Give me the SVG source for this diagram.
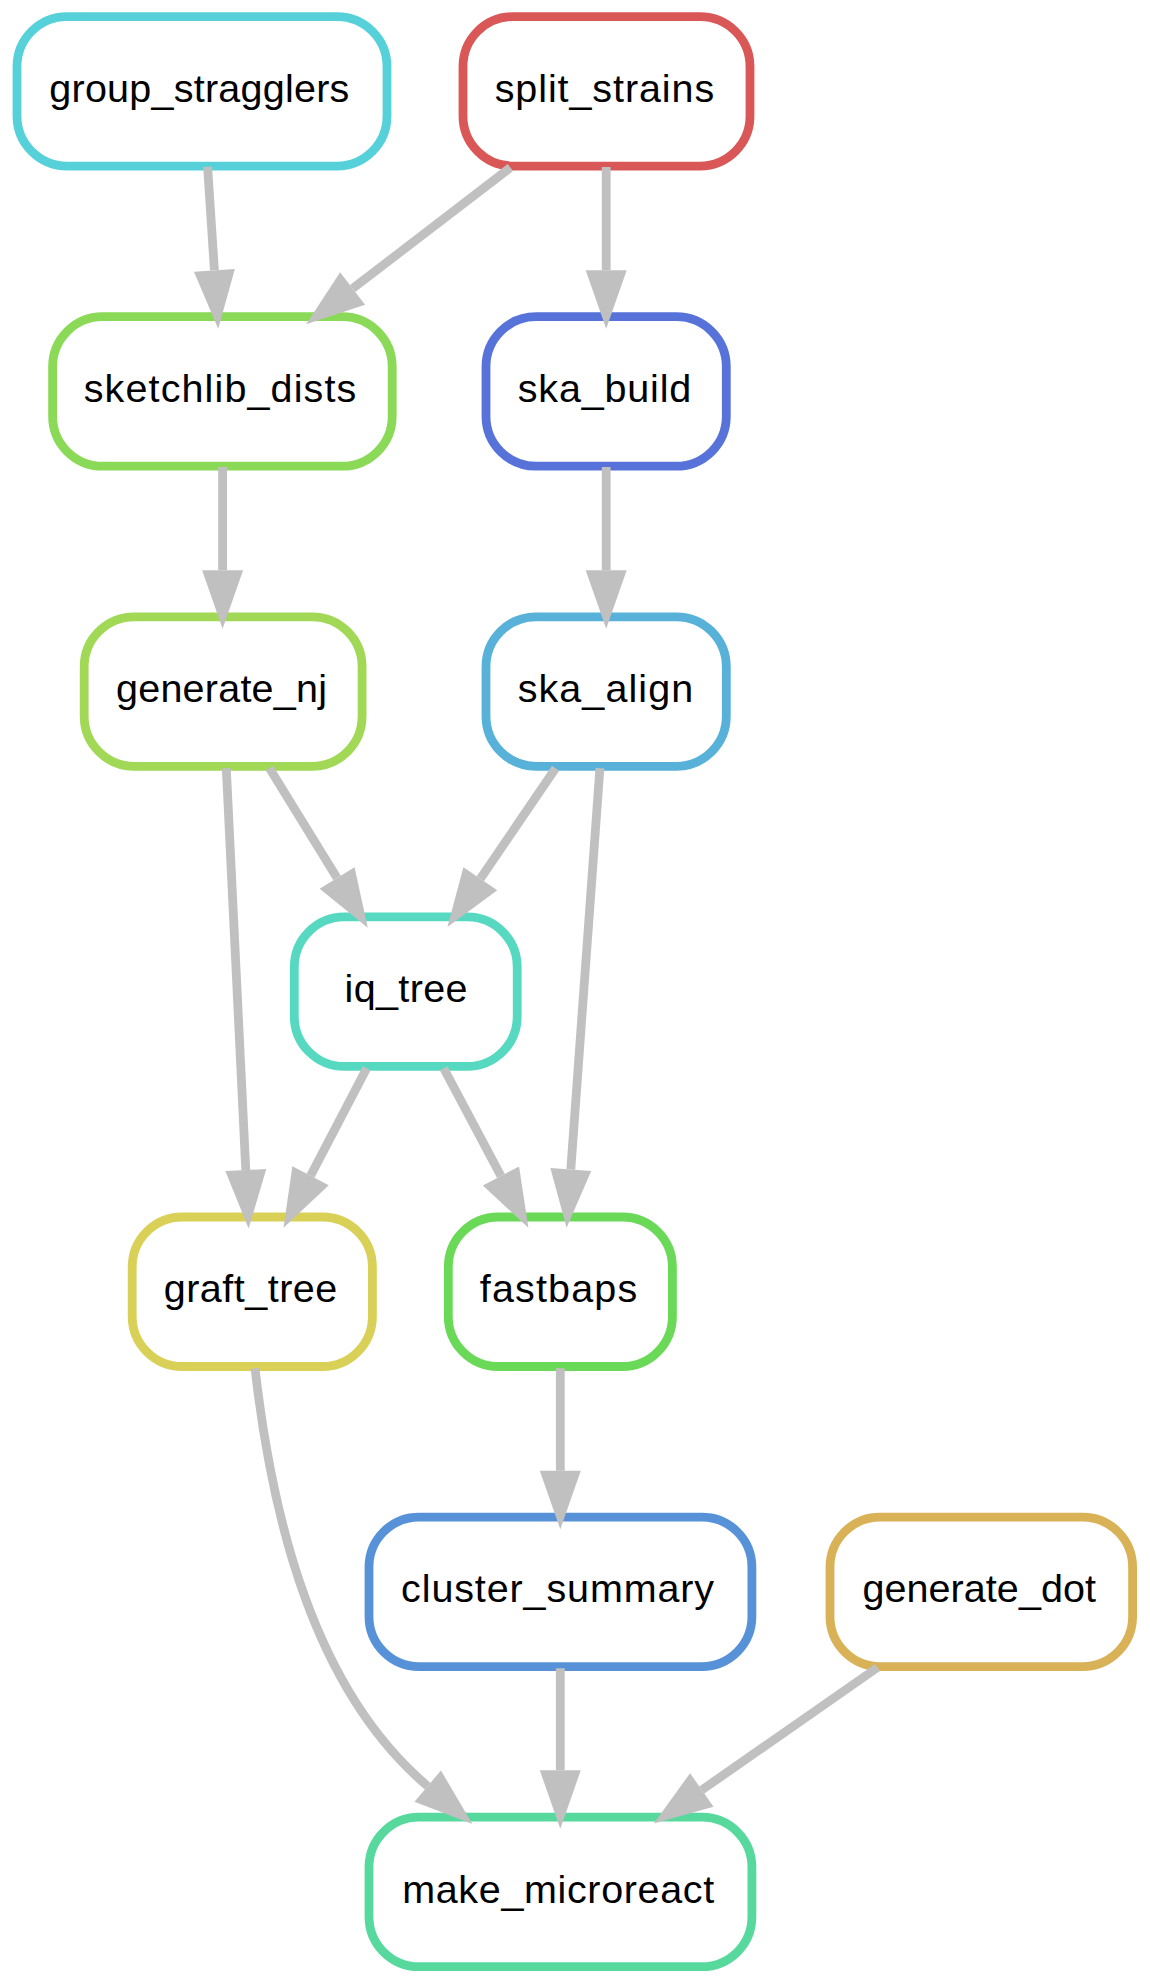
<svg xmlns="http://www.w3.org/2000/svg" width="1150" height="1984" viewBox="0 0 1150 1984">
<style>
  .node rect { fill: #ffffff; stroke-width: 8.8; }
  .node text { font-family: "Liberation Sans", Arial, Helvetica, sans-serif; font-size: 39.5px; fill: #000000; text-anchor: middle; }
  .edge { fill: none; stroke: #c0c0c0; stroke-width: 8.8; stroke-linecap: butt; marker-end: url(#arr); }
</style>
<defs>
  <marker id="arr" markerUnits="userSpaceOnUse" markerWidth="60" markerHeight="42" refX="0" refY="0" orient="auto" overflow="visible">
    <path d="M0,-20.5 L58.5,0 L0,20.5 Z" fill="#c0c0c0"/>
  </marker>
</defs>
<rect x="0" y="0" width="1150" height="1984" fill="#ffffff"/>
<g id="nodes">
  <g id="node-group_stragglers" class="node">
    <rect x="17" y="16.6" width="370" height="149.5" rx="50" ry="50" stroke="#57D1D9"/>
    <text x="199.3" y="101.9" textLength="300" lengthAdjust="spacing">group_stragglers</text>
  </g>
  <g id="node-split_strains" class="node">
    <rect x="463" y="16.6" width="287" height="149.5" rx="50" ry="50" stroke="#D95757"/>
    <text x="604.4" y="101.9" textLength="219.5" lengthAdjust="spacing">split_strains</text>
  </g>
  <g id="node-sketchlib_dists" class="node">
    <rect x="52.6" y="316.7" width="339.6" height="149.5" rx="50" ry="50" stroke="#8AD957"/>
    <text x="220" y="402" textLength="272.5" lengthAdjust="spacing">sketchlib_dists</text>
  </g>
  <g id="node-ska_build" class="node">
    <rect x="486" y="316.7" width="240.3" height="149.5" rx="50" ry="50" stroke="#5773D9"/>
    <text x="604.5" y="402" textLength="173.5" lengthAdjust="spacing">ska_build</text>
  </g>
  <g id="node-generate_nj" class="node">
    <rect x="84.2" y="616.8" width="277.9" height="149.5" rx="50" ry="50" stroke="#A1D957"/>
    <text x="221.5" y="702.1" textLength="211" lengthAdjust="spacing">generate_nj</text>
  </g>
  <g id="node-ska_align" class="node">
    <rect x="486" y="616.8" width="240.3" height="149.5" rx="50" ry="50" stroke="#57B1D9"/>
    <text x="605.4" y="702.1" textLength="175.5" lengthAdjust="spacing">ska_align</text>
  </g>
  <g id="node-iq_tree" class="node">
    <rect x="294.3" y="916.9" width="222.9" height="149.5" rx="50" ry="50" stroke="#57D9C1"/>
    <text x="406" y="1002.2" textLength="123" lengthAdjust="spacing">iq_tree</text>
  </g>
  <g id="node-graft_tree" class="node">
    <rect x="132.2" y="1217" width="240.2" height="149.5" rx="50" ry="50" stroke="#D9D157"/>
    <text x="250.5" y="1302.3" textLength="173.5" lengthAdjust="spacing">graft_tree</text>
  </g>
  <g id="node-fastbaps" class="node">
    <rect x="448.3" y="1217" width="224.1" height="149.5" rx="50" ry="50" stroke="#6AD957"/>
    <text x="558.5" y="1302.3" textLength="157.5" lengthAdjust="spacing">fastbaps</text>
  </g>
  <g id="node-cluster_summary" class="node">
    <rect x="369" y="1517.1" width="382.9" height="149.5" rx="50" ry="50" stroke="#5792D9"/>
    <text x="557.6" y="1602.4" textLength="313" lengthAdjust="spacing">cluster_summary</text>
  </g>
  <g id="node-generate_dot" class="node">
    <rect x="830" y="1517.1" width="302.6" height="149.5" rx="50" ry="50" stroke="#D9B257"/>
    <text x="979.2" y="1602.4" textLength="233.5" lengthAdjust="spacing">generate_dot</text>
  </g>
  <g id="node-make_microreact" class="node">
    <rect x="369" y="1817.2" width="382.9" height="149.5" rx="50" ry="50" stroke="#57D99E"/>
    <text x="558.2" y="1902.5" textLength="312" lengthAdjust="spacing">make_microreact</text>
  </g>
</g>
<g id="edges">
  <path class="edge" d="M207.6,166.8 L214.4,270.3"/>
  <path class="edge" d="M510.4,167.6 L352.6,288.6"/>
  <path class="edge" d="M606.2,167 L606.2,270.2"/>
  <path class="edge" d="M222.6,467 L222.6,570.3"/>
  <path class="edge" d="M606.2,467 L606.2,570.3"/>
  <path class="edge" d="M269.5,768.3 L337.1,878"/>
  <path class="edge" d="M555.6,768.3 L480.35,878.7"/>
  <path class="edge" d="M226.3,768.3 L245.8,1170.1"/>
  <path class="edge" d="M366.7,1068.2 L310.56,1175.8"/>
  <path class="edge" d="M443.7,1068.2 L500.96,1176"/>
  <path class="edge" d="M599.9,768.3 L570.8,1169.4"/>
  <path class="edge" d="M560.3,1368.2 L560.3,1470.8"/>
  <path class="edge" d="M255,1368.3 C272.1,1517.3 313.1,1689.5 427.7,1786.2"/>
  <path class="edge" d="M560.3,1668.3 L560.3,1770.3"/>
  <path class="edge" d="M877.5,1667.5 L701.8,1790"/>
</g>
</svg>
